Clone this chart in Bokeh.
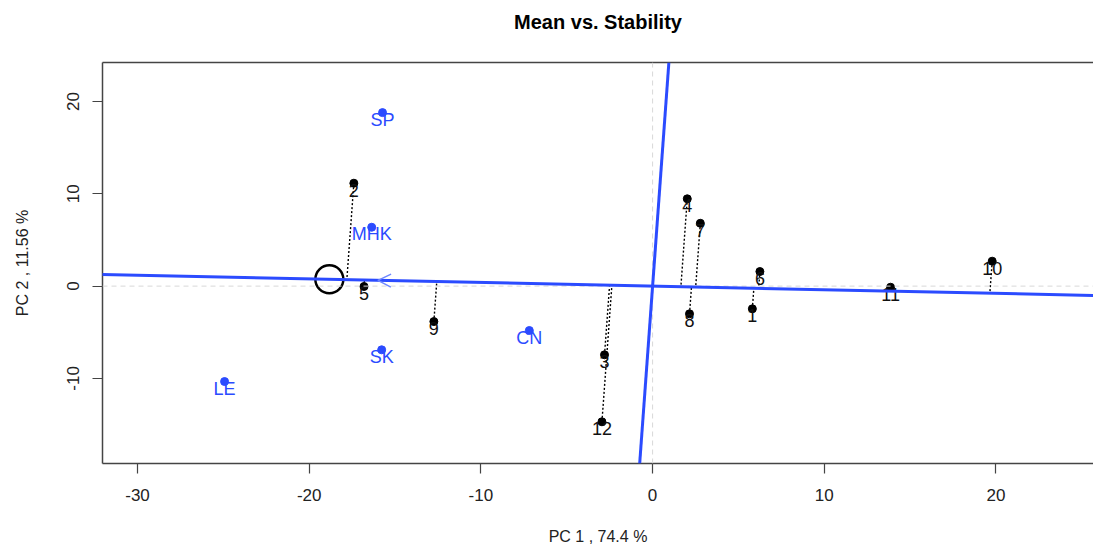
import numpy as np
from bokeh.plotting import figure
from bokeh.models import (ColumnDataSource, Range1d, LinearAxis, FixedTicker,
                          Slope, Span, Arrow, OpenHead)
from bokeh.embed import file_html
from bokeh.resources import INLINE

# ---- data ----
genotypes = ["1", "2", "3", "4", "5", "6", "7", "8", "9", "10", "11", "12"]
gen_pc1 = [5.81, -17.40, -2.80, 2.02, -16.81, 6.25, 2.78, 2.15, -12.74, 19.78, 13.86, -2.95]
gen_pc2 = [-2.46, 11.15, -7.44, 9.46, -0.04, 1.58, 6.81, -3.00, -3.84, 2.70, -0.12, -14.70]

environments = ["SP", "MHK", "SK", "CN", "LE"]
env_pc1 = [-15.73, -16.36, -15.78, -7.18, -24.93]
env_pc2 = [18.80, 6.38, -6.90, -4.81, -10.34]

x_ticks = [-30, -20, -10, 0, 10, 20]
y_ticks = [-10, 0, 10, 20]

title_text = "Mean vs. Stability"
x_label = "PC 1 , 74.4 %"
y_label = "PC 2 , 11.56 %"

BLUE = "#2b4bff"
FONT = "Liberation Sans"

# average environment direction
mx = float(np.mean(env_pc1))
my = float(np.mean(env_pc2))
norm = np.hypot(mx, my)
ux, uy = mx / norm, my / norm
circle_scale = 1.177

# projections of genotypes onto the average-environment axis
gx = np.array(gen_pc1)
gy = np.array(gen_pc2)
dots = gx * ux + gy * uy
px = dots * ux
py = dots * uy

p = figure(width=1093, height=552, output_backend="svg", toolbar_location=None,
           x_range=Range1d(-32.04, 25.68), y_range=Range1d(-19.22, 24.23),
           min_border_left=102, min_border_right=0, min_border_top=62,
           min_border_bottom=89, x_axis_location=None, y_axis_location=None)
p.outline_line_color = None
p.xgrid.visible = False
p.ygrid.visible = False
p.background_fill_color = "white"
p.border_fill_color = "white"

# axes
xa = LinearAxis(ticker=FixedTicker(ticks=x_ticks), axis_label=x_label)
ya = LinearAxis(ticker=FixedTicker(ticks=y_ticks), axis_label=y_label)
top = LinearAxis(ticker=FixedTicker(ticks=[]), axis_label=title_text)
for ax in (xa, ya, top):
    ax.axis_line_color = "#444444"
    ax.axis_line_width = 1.5
    ax.major_tick_line_color = "#444444"
    ax.major_tick_line_width = 1.2
    ax.major_tick_out = 10
    ax.major_tick_in = 0
    ax.minor_tick_line_color = None
    ax.major_label_text_font = FONT
    ax.major_label_text_font_size = "17px"
    ax.major_label_text_color = "#222222"
    ax.axis_label_text_font = FONT
    ax.axis_label_text_font_size = "16px"
    ax.axis_label_text_font_style = "normal"
    ax.axis_label_text_color = "#222222"
xa.major_label_overrides = {t: str(t) for t in x_ticks}
ya.major_label_overrides = {t: str(t) for t in y_ticks}
xa.major_label_standoff = 15
xa.axis_label_standoff = 24
ya.major_label_orientation = "vertical"
ya.major_label_standoff = 13
ya.axis_label_standoff = 34
# top axis only draws the frame's top edge and carries the title
top.major_label_text_font_size = "0px"
top.major_tick_out = 0
top.major_label_standoff = 0
top.axis_label_standoff = 30
top.axis_label_text_font_size = "20px"
top.axis_label_text_font_style = "bold"
top.axis_label_text_color = "black"
p.add_layout(xa, "below")
p.add_layout(ya, "left")
p.add_layout(top, "above")

# reference lines at 0
p.add_layout(Span(location=0, dimension="width", line_color="#d8d8d8",
                  line_dash="5 4", line_width=1))
p.add_layout(Span(location=0, dimension="height", line_color="#d8d8d8",
                  line_dash="5 4", line_width=1))

# projection (dotted) lines
p.segment(x0=gx, y0=gy, x1=px, y1=py, line_color="black", line_dash="2 2",
          line_width=1.4)

# average environment axis and its perpendicular
p.add_layout(Slope(gradient=my / mx, y_intercept=0, line_color=BLUE, line_width=3))
p.add_layout(Slope(gradient=-mx / my, y_intercept=0, line_color=BLUE, line_width=3))

# arrow head toward average environment
p.add_layout(Arrow(end=OpenHead(size=13, line_color="#6f88ff", line_width=1.5),
                   x_start=0, y_start=0, x_end=mx, y_end=my,
                   line_alpha=0, line_width=0))

# average environment circle
p.scatter(x=[mx * circle_scale], y=[my * circle_scale], marker="circle", size=28,
          fill_color=None, line_color="black", line_width=2.5)

# genotypes
gsrc = ColumnDataSource(dict(x=gen_pc1, y=gen_pc2, lab=genotypes))
p.scatter(x="x", y="y", source=gsrc, size=8, color="black")
p.text(x="x", y="y", text="lab", source=gsrc, text_align="center",
       text_baseline="middle", y_offset=7, text_font_size="18px",
       text_color="#111111", text_font={"value": FONT})

# environments
esrc = ColumnDataSource(dict(x=env_pc1, y=env_pc2, lab=environments))
p.scatter(x="x", y="y", source=esrc, size=8, color=BLUE)
p.text(x="x", y="y", text="lab", source=esrc, text_align="center",
       text_baseline="middle", y_offset=7, text_font_size="18px",
       text_color=BLUE, text_font={"value": FONT})

open("out.html", "w").write(file_html(p, INLINE))
